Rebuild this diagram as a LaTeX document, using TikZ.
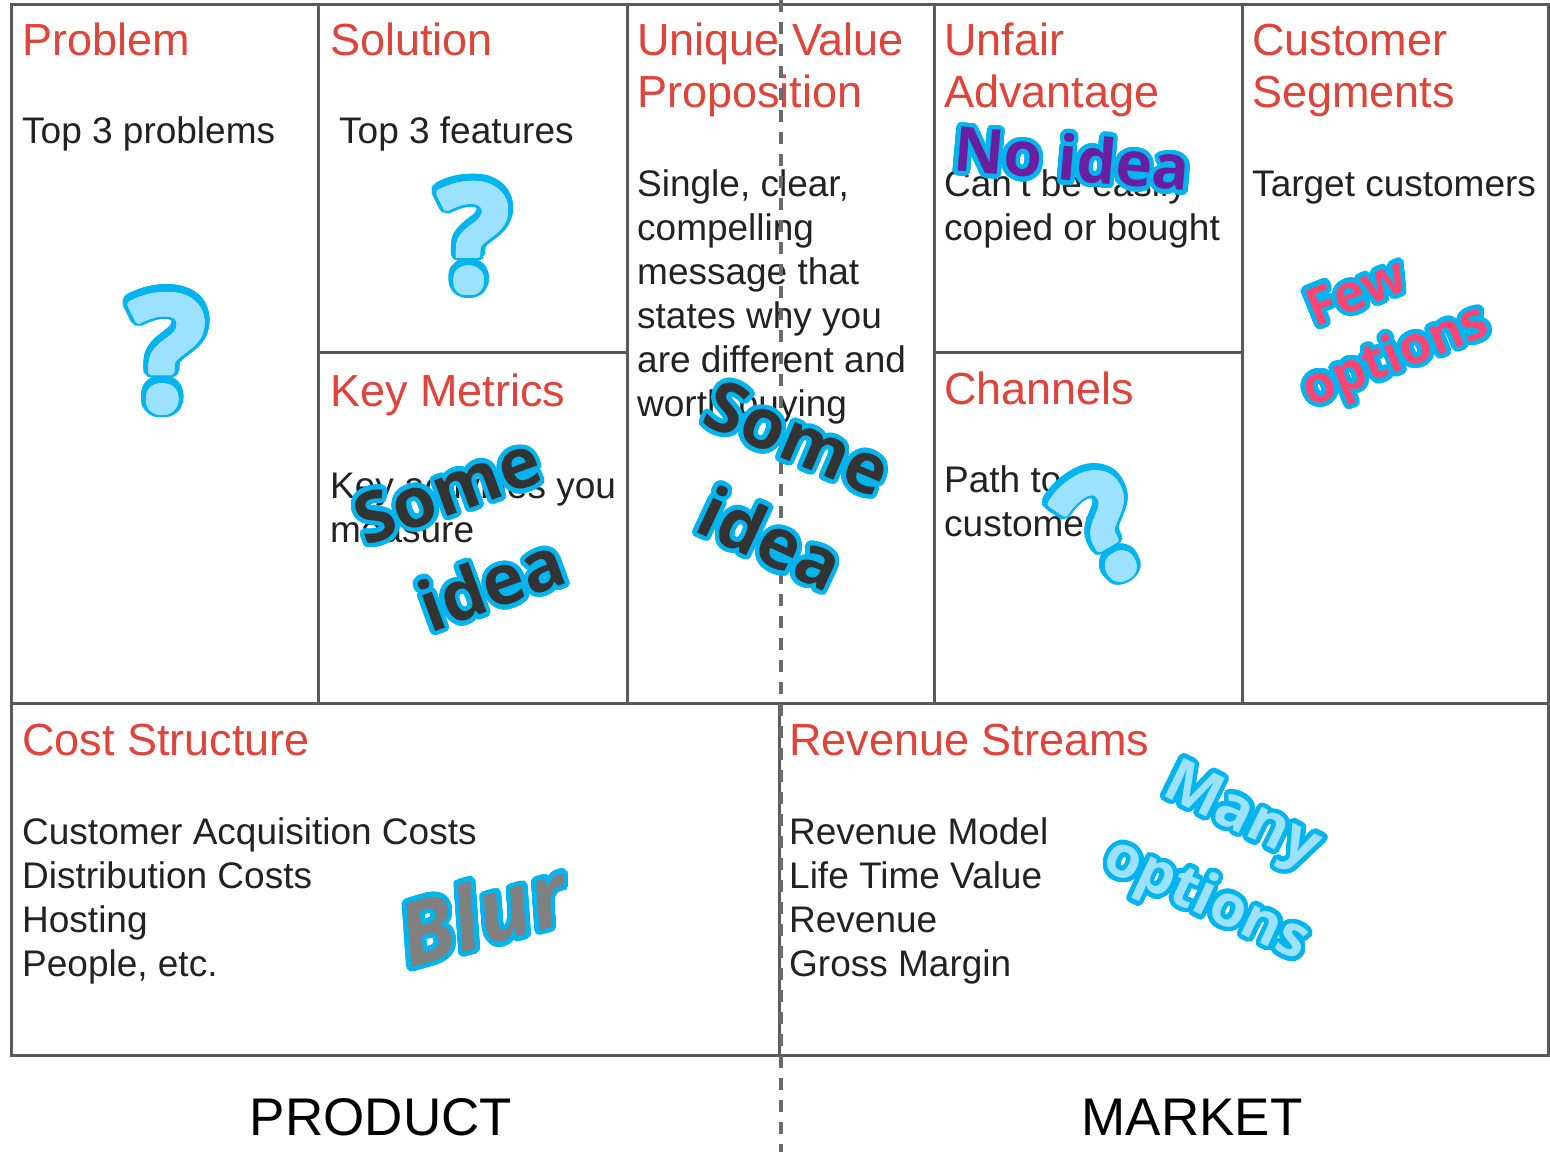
\documentclass[tikz,border=0pt]{standalone}
\usepackage{fontspec}
\setmainfont{Liberation Sans}
\newfontfamily\ovf{Open Sans}
\usepackage{contour}
\contournumber{32}
\contourlength{4.5pt}
\definecolor{linegray}{HTML}{5A5A5A}
\definecolor{dashgray}{HTML}{6A6A6A}
\definecolor{headred}{HTML}{E0433A}
\definecolor{bodygray}{HTML}{222222}
\definecolor{ocyan}{HTML}{00B4F0}
\definecolor{olight}{HTML}{9CE1FF}
\definecolor{opurple}{HTML}{6A1FA0}
\definecolor{odark}{HTML}{333333}
\definecolor{opink}{HTML}{FF4472}
\definecolor{ogray}{HTML}{808080}
\newcommand{\qmark}{{\contourlength{2.5pt}\contour{olight}{?}}}
\newcommand{\qring}{{\contourlength{7.5pt}\contour{ocyan}{?}}}
\tikzset{
  gridline/.style={draw=linegray, line width=3pt},
  dashline/.style={draw=dashgray, line width=4pt, dash pattern=on 12pt off 10pt},
  head/.style={anchor=base west, inner sep=0pt, text=headred, font=\fontsize{45}{52}\selectfont},
  body/.style={anchor=base west, inner sep=0pt, text=bodygray, font=\fontsize{37}{44}\selectfont},
  foot/.style={anchor=base, inner sep=0pt, text=black, font=\fontsize{53}{60}\selectfont},
  ov/.style={inner sep=0pt, anchor=center, font=\ovf\bfseries\fontsize{#1}{#1}\selectfont}
}
\begin{document}
\begin{tikzpicture}[x=1pt,y=-1pt]
\useasboundingbox (0,0) rectangle (1550,1152);
\fill[white] (0,0) rectangle (1550,1152);
% grid
\draw[gridline] (11,4) rectangle (1548,1055);
\draw[gridline] (11,703) -- (1548,703);
\foreach \x in {318,627,934,1242} \draw[gridline] (\x,4) -- (\x,703);
\draw[gridline] (318,352) -- (627,352);
\draw[gridline] (934,352) -- (1242,352);
\draw[gridline] (779,703) -- (779,1055);
% headings
\node[head] (hprob) at (22,55) {Problem};
\node[head] (hsol) at (330,55) {Solution};
\node[head] (huvp1) at (637,55) {Unique Value};
\node[head] (huvp2) at (637,107) {Proposition};
\node[head] (hua1) at (944,55) {Unfair};
\node[head] (hua2) at (944,107) {Advantage};
\node[head] (hcs1) at (1252,55) {Customer};
\node[head] (hcs2) at (1252,107) {Segments};
\node[head] (hkm) at (330,406) {Key Metrics};
\node[head] (hch) at (944,404) {Channels};
\node[head] (hcost) at (22,755) {Cost Structure};
\node[head] (hrev) at (789,755) {Revenue Streams};
% bodies
\node[body] (bprob) at (22,143) {Top 3 problems};
\node[body] (bsol) at (339,143) {Top 3 features};
\node[body] (buvp1) at (637,196) {Single, clear,};
\node[body] (buvp2) at (637,240) {compelling};
\node[body] (buvp3) at (637,284) {message that};
\node[body] (buvp4) at (637,328) {states why you};
\node[body] (buvp5) at (637,372) {are different and};
\node[body] (buvp6) at (637,416) {worth buying};
\node[body] (bua1) at (944,196) {Can't be easily};
\node[body] (bua2) at (944,240) {copied or bought};
\node[body] (bcs) at (1252,196) {Target customers};
\node[body] (bkm1) at (330,498) {Key activities you};
\node[body] (bkm2) at (330,542) {measure};
\node[body] (bch1) at (944,492) {Path to};
\node[body] (bch2) at (944,536) {customers};
\node[body] (bcost1) at (22,844) {Customer Acquisition Costs};
\node[body] (bcost2) at (22,888) {Distribution Costs};
\node[body] (bcost3) at (22,932) {Hosting};
\node[body] (bcost4) at (22,976) {People, etc.};
\node[body] (brev1) at (789,844) {Revenue Model};
\node[body] (brev2) at (789,888) {Life Time Value};
\node[body] (brev3) at (789,932) {Revenue};
\node[body] (brev4) at (789,976) {Gross Margin};
% footer
\node[foot] (fprod) at (381,1135) {PRODUCT};
\node[foot] (fmark) at (1192,1135) {MARKET};
% dashed divider
\draw[dashline] (781,0) -- (781,1152);
% overlays: question marks (cyan ring under a thickened light glyph)
\node[ov=160, text=ocyan] (q1r) at (168,355) {\qring};
\node[ov=160, text=olight] (q1) at (168,355) {\qmark};
\node[ov=148, text=ocyan] (q2r) at (474,240) {\qring};
\node[ov=148, text=olight] (q2) at (474,240) {\qmark};
\node[ov=150, text=ocyan, rotate=30] (q3r) at (1105,528) {\qring};
\node[ov=150, text=olight, rotate=30] (q3) at (1105,528) {\qmark};
% overlays: words
\node[ov=62, text=opurple, rotate=-5] (noidea) at (1072,160) {\contour{ocyan}{No idea}};
\node[ov=70, text=odark, rotate=20] (km1) at (448,492) {\contour{ocyan}{Some}};
\node[ov=70, text=odark, rotate=20] (km2) at (492,585) {\contour{ocyan}{idea}};
\node[ov=70, text=odark, rotate=-23] (uv1) at (797,440) {\contour{ocyan}{Some}};
\node[ov=70, text=odark, rotate=-25] (uv2) at (770,540) {\contour{ocyan}{idea}};
\node[ov=52, text=opink, rotate=22] (few1) at (1357,293) {\contour{ocyan}{Few}};
\node[ov=52, text=opink, rotate=22] (few2) at (1397,360) {\contour{ocyan}{options}};
\node[ov=60, text=olight, rotate=-26] (many1) at (1240,820) {\contour{ocyan}{Many}};
\node[ov=58, text=olight, rotate=-25] (many2) at (1205,903) {\contour{ocyan}{options}};
\node[ov=88, text=ogray, rotate=16] (blur) at (483,915) {\contour{ocyan}{\itshape Blur}};
\end{tikzpicture}
\end{document}
